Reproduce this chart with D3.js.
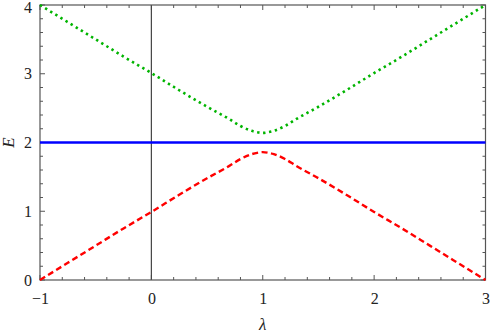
<!DOCTYPE html>
<html><head><meta charset="utf-8">
<script src="https://cdn.jsdelivr.net/npm/d3@7"></script>
<style>body{margin:0;background:#fff}svg{display:block}text{font-family:'Liberation Serif','DejaVu Serif',serif}</style>
</head><body>
<script>
const lambdas = [-1,-0.75,-0.5,-0.25,0,0.25,0.5,0.7,0.8,0.9,0.95,1,1.05,1.1,1.2,1.3,1.5,1.75,2,2.25,2.5,2.75,3];
const lowerE = [0,0.25,0.5,0.75,0.99,1.24,1.48,1.66,1.76,1.83,1.85,1.86,1.85,1.83,1.76,1.66,1.48,1.24,0.99,0.75,0.5,0.25,0];
const upperE = [4,3.75,3.5,3.25,3.01,2.76,2.52,2.34,2.24,2.17,2.15,2.14,2.15,2.17,2.24,2.34,2.52,2.76,3.01,3.25,3.5,3.75,4];
const flatE = [2,2];
const flatL = [-1,3];
const xTicks = [-1,0,1,2,3];
const yTicks = [0,1,2,3,4];

const W=491,H=334;
const m={l:40,r:5.5,t:5,b:54};
const svg=d3.select("body").append("svg").attr("width",W).attr("height",H);
const x=d3.scaleLinear().domain([-1,3]).range([m.l,W-m.r]);
const y=d3.scaleLinear().domain([0,4]).range([H-m.b,m.t]);
const fnt="'Liberation Serif','DejaVu Serif',serif";
const frameC="#555";

const xMinor=d3.range(-1,3.0001,0.2), yMinor=d3.range(0,4.0001,0.2);
const g=svg.append("g");
xMinor.forEach(v=>{
  const major=Math.abs(v-Math.round(v))<1e-6, L=major?5:3;
  g.append("line").attr("x1",x(v)).attr("x2",x(v)).attr("y1",y(0)).attr("y2",y(0)-L).attr("stroke",frameC).attr("stroke-width",1);
  g.append("line").attr("x1",x(v)).attr("x2",x(v)).attr("y1",y(4)).attr("y2",y(4)+L).attr("stroke",frameC).attr("stroke-width",1);
});
yMinor.forEach(v=>{
  const major=Math.abs(v-Math.round(v))<1e-6, L=major?5:3;
  g.append("line").attr("y1",y(v)).attr("y2",y(v)).attr("x1",x(-1)).attr("x2",x(-1)+L).attr("stroke",frameC).attr("stroke-width",1);
  g.append("line").attr("y1",y(v)).attr("y2",y(v)).attr("x1",x(3)).attr("x2",x(3)-L).attr("stroke",frameC).attr("stroke-width",1);
});

svg.append("line").attr("x1",x(0)).attr("x2",x(0)).attr("y1",y(0)).attr("y2",y(4)).attr("stroke","#444").attr("stroke-width",1.2);

const fmt=d=>String(d).replace("-","\u2212");
const xa=svg.append("g").attr("transform",`translate(0,${y(0)})`).call(d3.axisBottom(x).tickValues(xTicks).tickSize(0).tickPadding(10).tickFormat(fmt));
const ya=svg.append("g").attr("transform",`translate(${x(-1)},0)`).call(d3.axisLeft(y).tickValues(yTicks).tickSize(0).tickPadding(8).tickFormat(fmt));
[xa,ya].forEach(a=>{a.attr("font-family",null).attr("font-size",null);a.select(".domain").remove();a.selectAll("text").style("font-family",fnt).style("font-size","16px").attr("fill","#222");});
xa.selectAll("text").attr("dy","0.9em");
ya.selectAll("text").filter(d=>d===4).attr("dy","0.45em");

svg.append("rect").attr("x",x(-1)).attr("y",y(4)).attr("width",x(3)-x(-1)).attr("height",y(0)-y(4)).attr("fill","none").attr("stroke",frameC).attr("stroke-width",1.2);

svg.append("clipPath").attr("id","c").append("rect").attr("x",x(-1)-2).attr("y",y(4)-2).attr("width",x(3)-x(-1)+4).attr("height",y(0)-y(4)+4);
const line=d3.line().x(d=>x(d[0])).y(d=>y(d[1])).curve(d3.curveMonotoneX);
const pg=svg.append("g").attr("clip-path","url(#c)");
pg.append("path").attr("d",line(flatL.map((l,i)=>[l,flatE[i]]))).attr("fill","none").attr("stroke","#0000ff").attr("stroke-width",2.6);
pg.append("path").attr("d",line(lambdas.map((l,i)=>[l,lowerE[i]]))).attr("fill","none").attr("stroke","#ff0000").attr("stroke-width",2.4).attr("stroke-dasharray","6,3.5");
pg.append("path").attr("d",line(lambdas.map((l,i)=>[l,upperE[i]]))).attr("fill","none").attr("stroke","#00b400").attr("stroke-width",2.6).attr("stroke-dasharray","2.4,3.6");

svg.append("text").attr("x",(x(-1)+x(3))/2).attr("y",330).attr("text-anchor","middle").style("font-family",fnt).style("font-style","italic").style("font-size","17px").attr("fill","#222").text("λ");
svg.append("text").attr("transform",`translate(14,${(y(0)+y(4))/2}) rotate(-90)`).attr("text-anchor","middle").style("font-family",fnt).style("font-style","italic").style("font-size","17px").attr("fill","#222").text("E");
</script>
</body></html>
